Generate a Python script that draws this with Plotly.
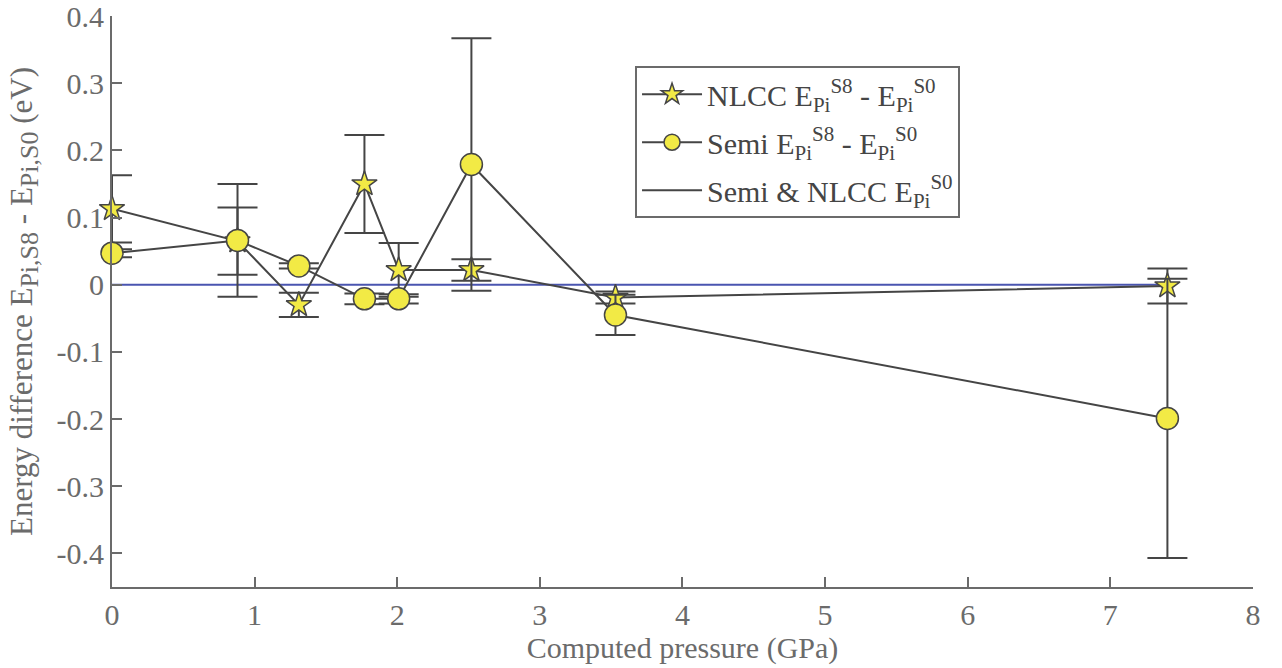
import plotly.graph_objects as go

pressure = [0.0, 0.88, 1.31, 1.77, 2.01, 2.52, 3.53, 7.40]
nlcc_diff = [0.113, 0.065, -0.030, 0.150, 0.022, 0.022, -0.019, -0.002]
nlcc_err = [0.050, 0.050, 0.018, 0.073, 0.040, 0.016, 0.009, 0.026]
semi_diff = [0.047, 0.066, 0.028, -0.021, -0.021, 0.179, -0.045, -0.199]
semi_err = [0.006, 0.084, 0.004, 0.008, 0.007, 0.188, 0.030, 0.208]
ref_x = [0.0, 7.40]
ref_y = [0.0, 0.0]

x_ticks = [0, 1, 2, 3, 4, 5, 6, 7, 8]
y_ticks = [0.4, 0.3, 0.2, 0.1, 0, -0.1, -0.2, -0.3, -0.4]
y_ticktext = ["0.4", "0.3", "0.2", "0.1", "0", "-0.1", "-0.2", "-0.3", "-0.4"]

DARK = "#454545"
YEL = "#f2ea45"
GRAY = "#6b6b6b"
FONT = "Liberation Serif"

fig = go.Figure()

fig.add_trace(go.Scatter(
    x=ref_x, y=ref_y, mode="lines", cliponaxis=False,
    line=dict(color="#4a55b0", width=2), showlegend=False, hoverinfo="skip"))

fig.add_trace(go.Scatter(
    x=pressure, y=nlcc_diff, mode="lines+markers", cliponaxis=False,
    name="NLCC E<sub>Pi</sub><sup>S8</sup> - E<sub>Pi</sub><sup>S0</sup>",
    legendgroup="a",
    line=dict(color=DARK, width=2),
    marker=dict(symbol="star", size=19, color=YEL, line=dict(color=DARK, width=1.5)),
    error_y=dict(type="data", array=nlcc_err, visible=True, color=DARK, thickness=2, width=20)))

fig.add_trace(go.Scatter(
    x=pressure, y=semi_diff, mode="lines+markers", cliponaxis=False,
    name="Semi E<sub>Pi</sub><sup>S8</sup> - E<sub>Pi</sub><sup>S0</sup>",
    legendgroup="b",
    line=dict(color=DARK, width=2),
    marker=dict(symbol="circle", size=22, color=YEL, line=dict(color=DARK, width=1.5)),
    error_y=dict(type="data", array=semi_err, visible=True, color=DARK, thickness=2, width=20)))

fig.add_trace(go.Scatter(
    x=[None], y=[None], mode="lines",
    name="Semi &amp; NLCC E<sub>Pi</sub><sup>S0</sup>",
    legendgroup="c",
    line=dict(color=DARK, width=2)))

y_title = ("Energy difference E<sub><span style='font-size:26px'>Pi,S8</span></sub>"
           " - E<sub><span style='font-size:26px'>Pi,S0</span></sub> (eV)")

fig.update_layout(
    width=1282, height=668,
    margin=dict(l=112, r=29, t=16, b=81),
    paper_bgcolor="white", plot_bgcolor="white",
    font=dict(family=FONT, size=30, color=GRAY),
    legend=dict(
        x=0.4584, y=0.912, xanchor="left", yanchor="top",
        bgcolor="white", bordercolor=GRAY, borderwidth=2,
        font=dict(family=FONT, size=30, color=DARK),
        tracegroupgap=6, itemwidth=60),
    xaxis=dict(
        range=[0, 8.0001], tickvals=x_ticks, ticks="inside", ticklen=10, tickwidth=2,
        tickcolor=GRAY, showline=True, linecolor=GRAY, linewidth=2,
        showgrid=False, zeroline=False, automargin=False,
        title=dict(text="Computed pressure (GPa)", standoff=2, font=dict(size=30, color=GRAY)),
        tickfont=dict(size=30, color=GRAY)),
    yaxis=dict(
        range=[-0.45, 0.4001], tickvals=y_ticks, ticktext=y_ticktext,
        ticks="inside", ticklen=10, tickwidth=2, tickcolor=GRAY,
        showline=True, linecolor=GRAY, linewidth=2, showgrid=False, zeroline=False,
        automargin=False, ticklabeloverflow="allow",
        title=dict(text=y_title, standoff=15, font=dict(size=31, color=GRAY)),
        tickfont=dict(size=30, color=GRAY)),
)

fig.write_html("out.html", config={"displayModeBar": False},
               post_script="document.body.style.margin='0';")
